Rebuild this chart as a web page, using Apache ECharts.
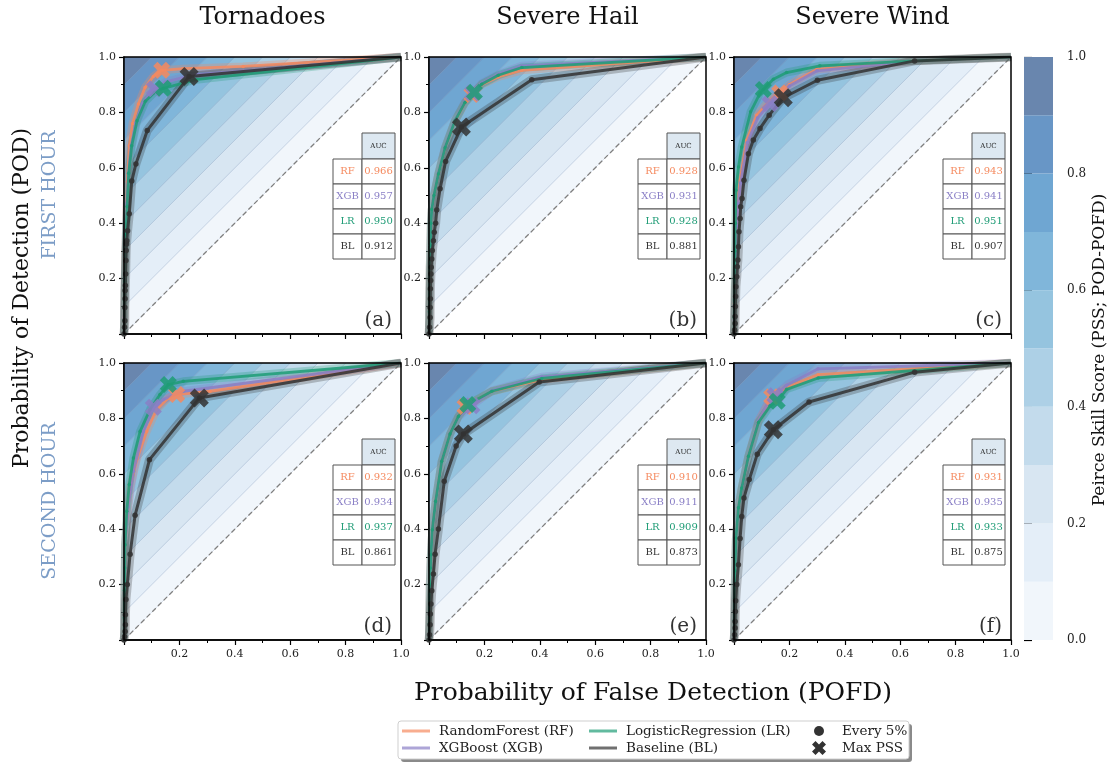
<!DOCTYPE html>
<html>
<head>
<meta charset="utf-8">
<script src="https://cdn.jsdelivr.net/npm/echarts@6.0.0/dist/echarts.min.js"></script>
<style>
html,body{margin:0;padding:0;background:#fff;}
#chart{width:1113px;height:764px;}
</style>
</head>
<body>
<div id="chart"></div>
<script>
// ---------- labels ----------
const columnTitles = ['Tornadoes', 'Severe Hail', 'Severe Wind'];
const rowTitles = ['FIRST HOUR', 'SECOND HOUR'];
const panelLetters = ['(a)', '(b)', '(c)', '(d)', '(e)', '(f)'];
const modelNames = ['RF', 'XGB', 'LR', 'BL'];
const legendNames = ['RandomForest (RF)', 'XGBoost (XGB)', 'LogisticRegression (LR)', 'Baseline (BL)'];
const modelColors = ['#f58a5f', '#8a7fc6', '#1f9c76', '#333333'];

// ---------- PSS filled levels (POD - POFD) ----------
const pssBounds = [0, 0.1, 0.2, 0.3, 0.4, 0.5, 0.6, 0.7, 0.8, 0.9, 1.0];
const pssColors = ['#f1f6fb', '#e4eef8', '#d8e6f2', '#c3dbec', '#add0e6', '#95c4df', '#80b6da', '#6fa6d2', '#6896c6', '#6986ae'];

// ---------- ROC curves: [POFD, POD] ----------
// Tornadoes, first hour
const torn1RF  = [[0,0],[0.001,0.06],[0.002,0.13],[0.003,0.2],[0.004,0.27],[0.006,0.34],[0.009,0.45],[0.012,0.55],[0.019,0.68],[0.031,0.76],[0.052,0.83],[0.076,0.89],[0.106,0.93],[0.136,0.952],[0.214,0.958],[0.43,0.966],[1,1]];
const torn1XGB = [[0,0],[0.001,0.06],[0.002,0.13],[0.003,0.2],[0.005,0.28],[0.007,0.36],[0.01,0.47],[0.016,0.58],[0.026,0.68],[0.042,0.76],[0.066,0.83],[0.09,0.865],[0.11,0.885],[0.15,0.91],[0.25,0.935],[0.5,0.955],[1,1]];
const torn1LR  = [[0,0],[0.001,0.05],[0.002,0.12],[0.003,0.19],[0.005,0.27],[0.007,0.36],[0.011,0.46],[0.017,0.58],[0.028,0.68],[0.047,0.77],[0.077,0.84],[0.11,0.872],[0.142,0.887],[0.26,0.918],[1,1]];
const torn1BL  = [[0,0],[0.002,0.024],[0.003,0.048],[0.003,0.096],[0.004,0.127],[0.004,0.157],[0.005,0.175],[0.006,0.217],[0.007,0.265],[0.008,0.301],[0.009,0.325],[0.010,0.337],[0.013,0.373],[0.019,0.434],[0.028,0.552],[0.043,0.614],[0.084,0.735],[0.235,0.93],[1,1]];
const torn1Max = [[0.136,0.952],[0.11,0.885],[0.142,0.887],[0.235,0.93]];
const torn1AUC = [0.966, 0.957, 0.950, 0.912];

// Severe hail, first hour
const hail1RF  = [[0,0],[0.001,0.08],[0.002,0.16],[0.003,0.24],[0.005,0.32],[0.007,0.4],[0.01,0.45],[0.018,0.5],[0.034,0.578],[0.058,0.672],[0.094,0.768],[0.13,0.835],[0.158,0.868],[0.19,0.9],[0.25,0.928],[0.335,0.952],[1,1]];
const hail1XGB = [[0,0],[0.001,0.08],[0.002,0.16],[0.003,0.24],[0.005,0.32],[0.007,0.4],[0.01,0.45],[0.018,0.5],[0.034,0.58],[0.058,0.675],[0.094,0.772],[0.13,0.838],[0.158,0.87],[0.19,0.905],[0.25,0.938],[0.335,0.968],[1,1]];
const hail1LR  = [[0,0],[0.001,0.08],[0.002,0.16],[0.003,0.24],[0.005,0.32],[0.007,0.4],[0.01,0.45],[0.018,0.5],[0.034,0.578],[0.058,0.672],[0.094,0.77],[0.13,0.836],[0.164,0.873],[0.19,0.902],[0.25,0.934],[0.335,0.962],[1,1]];
const hail1BL  = [[0,0],[0.002,0.024],[0.004,0.06],[0.004,0.096],[0.005,0.127],[0.005,0.163],[0.006,0.193],[0.007,0.217],[0.008,0.241],[0.010,0.271],[0.012,0.301],[0.016,0.337],[0.019,0.367],[0.024,0.4],[0.028,0.448],[0.04,0.524],[0.06,0.623],[0.117,0.747],[0.371,0.918],[1,1]];
const hail1Max = [[0.155,0.865],[0.158,0.87],[0.164,0.873],[0.117,0.747]];
const hail1AUC = [0.928, 0.931, 0.928, 0.881];

// Severe wind, first hour
const wind1RF  = [[0,0],[0.001,0.05],[0.002,0.11],[0.004,0.2],[0.006,0.3],[0.009,0.4],[0.014,0.48],[0.022,0.555],[0.046,0.7],[0.082,0.79],[0.13,0.844],[0.165,0.87],[0.2,0.9],[0.298,0.955],[0.652,0.986],[1,1]];
const wind1XGB = [[0,0],[0.001,0.05],[0.002,0.1],[0.004,0.19],[0.006,0.29],[0.009,0.39],[0.015,0.47],[0.024,0.545],[0.048,0.69],[0.085,0.78],[0.13,0.832],[0.2,0.895],[0.3,0.95],[0.652,0.986],[1,1]];
const wind1LR  = [[0,0],[0.001,0.06],[0.002,0.123],[0.003,0.2],[0.004,0.3],[0.005,0.4],[0.007,0.519],[0.016,0.603],[0.028,0.675],[0.06,0.802],[0.094,0.87],[0.106,0.883],[0.142,0.92],[0.19,0.944],[0.31,0.968],[0.652,0.986],[1,1]];
const wind1BL  = [[0,0],[0.002,0.014],[0.004,0.038],[0.004,0.063],[0.005,0.099],[0.006,0.135],[0.007,0.171],[0.010,0.207],[0.012,0.243],[0.014,0.267],[0.016,0.315],[0.018,0.369],[0.022,0.417],[0.024,0.459],[0.029,0.489],[0.036,0.555],[0.052,0.651],[0.07,0.7],[0.094,0.742],[0.127,0.79],[0.178,0.853],[0.301,0.916],[0.652,0.986],[1,1]];
const wind1Max = [[0.165,0.87],[0.13,0.832],[0.106,0.883],[0.178,0.853]];
const wind1AUC = [0.943, 0.941, 0.951, 0.907];

// Tornadoes, second hour
const torn2RF  = [[0,0],[0.001,0.08],[0.002,0.17],[0.003,0.26],[0.004,0.344],[0.012,0.45],[0.022,0.549],[0.046,0.651],[0.082,0.753],[0.118,0.832],[0.16,0.874],[0.19,0.886],[0.311,0.898],[1,1]];
const torn2XGB = [[0,0],[0.001,0.08],[0.002,0.17],[0.003,0.26],[0.004,0.344],[0.015,0.48],[0.034,0.609],[0.07,0.753],[0.106,0.84],[0.142,0.868],[0.214,0.898],[1,1]];
const torn2LR  = [[0,0],[0.001,0.08],[0.002,0.18],[0.003,0.26],[0.004,0.344],[0.01,0.465],[0.019,0.561],[0.034,0.657],[0.058,0.753],[0.094,0.832],[0.13,0.886],[0.16,0.922],[0.214,0.934],[1,1]];
const torn2BL  = [[0,0],[0.002,0.013],[0.004,0.031],[0.005,0.055],[0.005,0.091],[0.007,0.146],[0.012,0.2],[0.022,0.31],[0.04,0.45],[0.092,0.651],[0.272,0.874],[1,1]];
const torn2Max = [[0.19,0.886],[0.106,0.84],[0.16,0.922],[0.272,0.874]];
const torn2AUC = [0.932, 0.934, 0.937, 0.861];

// Severe hail, second hour
const hail2RF  = [[0,0],[0.001,0.06],[0.002,0.13],[0.003,0.2],[0.005,0.26],[0.007,0.308],[0.012,0.398],[0.024,0.501],[0.046,0.645],[0.076,0.744],[0.106,0.807],[0.13,0.843],[0.148,0.852],[0.227,0.898],[0.407,0.94],[1,1]];
const hail2XGB = [[0,0],[0.001,0.06],[0.002,0.13],[0.003,0.2],[0.005,0.26],[0.007,0.308],[0.012,0.398],[0.024,0.501],[0.046,0.645],[0.076,0.744],[0.106,0.805],[0.155,0.846],[0.227,0.9],[0.407,0.95],[1,1]];
const hail2LR  = [[0,0],[0.001,0.06],[0.002,0.13],[0.003,0.2],[0.005,0.26],[0.007,0.308],[0.012,0.398],[0.024,0.501],[0.046,0.645],[0.076,0.744],[0.106,0.807],[0.14,0.85],[0.227,0.898],[0.407,0.944],[1,1]];
const hail2BL  = [[0,0],[0.002,0.019],[0.004,0.055],[0.005,0.094],[0.007,0.13],[0.010,0.178],[0.016,0.238],[0.022,0.31],[0.034,0.401],[0.055,0.573],[0.098,0.7],[0.124,0.744],[0.398,0.931],[1,1]];
const hail2Max = [[0.13,0.843],[0.155,0.846],[0.14,0.85],[0.124,0.744]];
const hail2AUC = [0.910, 0.911, 0.909, 0.873];

// Severe wind, second hour
const wind2RF  = [[0,0],[0.001,0.07],[0.002,0.15],[0.004,0.25],[0.007,0.368],[0.016,0.477],[0.028,0.549],[0.052,0.663],[0.088,0.789],[0.136,0.878],[0.19,0.912],[0.304,0.958],[1,1]];
const wind2XGB = [[0,0],[0.001,0.07],[0.002,0.15],[0.004,0.25],[0.007,0.368],[0.016,0.477],[0.028,0.549],[0.052,0.663],[0.088,0.79],[0.13,0.87],[0.148,0.882],[0.19,0.92],[0.304,0.979],[1,1]];
const wind2LR  = [[0,0],[0.001,0.07],[0.002,0.15],[0.004,0.25],[0.007,0.368],[0.016,0.477],[0.028,0.549],[0.052,0.663],[0.088,0.785],[0.13,0.845],[0.156,0.862],[0.19,0.905],[0.304,0.946],[1,1]];
const wind2BL  = [[0,0],[0.002,0.019],[0.004,0.043],[0.004,0.067],[0.005,0.103],[0.006,0.142],[0.010,0.2],[0.016,0.272],[0.022,0.366],[0.028,0.446],[0.036,0.513],[0.055,0.579],[0.084,0.671],[0.142,0.759],[0.271,0.859],[0.652,0.967],[1,1]];
const wind2Max = [[0.136,0.878],[0.148,0.882],[0.156,0.862],[0.142,0.759]];
const wind2AUC = [0.931, 0.935, 0.933, 0.875];

// ---------- panel assembly ----------
const panels = [
  { curves: [torn1RF, torn1XGB, torn1LR, torn1BL], maxPss: torn1Max, auc: torn1AUC },
  { curves: [hail1RF, hail1XGB, hail1LR, hail1BL], maxPss: hail1Max, auc: hail1AUC },
  { curves: [wind1RF, wind1XGB, wind1LR, wind1BL], maxPss: wind1Max, auc: wind1AUC },
  { curves: [torn2RF, torn2XGB, torn2LR, torn2BL], maxPss: torn2Max, auc: torn2AUC },
  { curves: [hail2RF, hail2XGB, hail2LR, hail2BL], maxPss: hail2Max, auc: hail2AUC },
  { curves: [wind2RF, wind2XGB, wind2LR, wind2BL], maxPss: wind2Max, auc: wind2AUC }
];

const FONT = '"DejaVu Serif", serif';
const TEXT = '#222';
const SIZE = 277;
const COL_X = [124, 429, 734];
const ROW_Y = [57, 363];
// filled "X" marker outline on a 20x20 box
const X_POINTS = [[0,5],[5,0],[10,5],[15,0],[20,5],[15,10],[20,15],[15,20],[10,15],[5,20],[0,15],[5,10]];
const X_MARK = 'path://M' + X_POINTS.map(p => p.join(',')).join('L') + 'Z';

const grids = [], xAxes = [], yAxes = [], series = [], graphics = [];

function bandRender(params, api) {
  const lo = api.value(0), hi = api.value(1);
  const pts = [[0, lo], [1 - lo, 1], [1 - hi, 1], [0, hi]].map(p => api.coord(p));
  return {
    type: 'polygon',
    shape: { points: pts },
    style: { fill: pssColors[params.dataIndex], stroke: 'rgba(30,70,130,0.2)', lineWidth: 0.7 }
  };
}

panels.forEach((panel, p) => {
  const r = Math.floor(p / 3), c = p % 3;
  const left = COL_X[c], top = ROW_Y[r];
  grids.push({ left, top, width: SIZE, height: SIZE, containLabel: false });
  const tickCommon = {
    axisTick: { show: true, length: 5, lineStyle: { color: '#000', width: 1.2 } },
    minorTick: { show: true, splitNumber: 2, length: 3, lineStyle: { color: '#000', width: 1 } },
    splitLine: { show: false },
    axisLine: { show: true, lineStyle: { color: '#000', width: 1.5 } }
  };
  xAxes.push(Object.assign({
    gridIndex: p, type: 'value', min: 0, max: 1, interval: 0.2,
    axisLabel: { show: r === 1, fontFamily: FONT, fontSize: 11, color: TEXT, margin: 9,
      formatter: v => (v === 0 ? '' : v.toFixed(1)) }
  }, tickCommon));
  yAxes.push(Object.assign({
    gridIndex: p, type: 'value', min: 0, max: 1, interval: 0.2,
    axisLabel: { fontFamily: FONT, fontSize: 11, color: TEXT, margin: 8,
      formatter: v => (v === 0 ? '' : v.toFixed(1)) }
  }, tickCommon));

  // PSS bands
  series.push({
    type: 'custom', xAxisIndex: p, yAxisIndex: p, silent: true, z: 1,
    renderItem: bandRender,
    data: pssColors.map((col, i) => [pssBounds[i], pssBounds[i + 1]])
  });
  // no-skill diagonal
  series.push({
    type: 'line', xAxisIndex: p, yAxisIndex: p, silent: true, z: 3,
    data: [[0, 0], [1, 1]], symbol: 'none',
    lineStyle: { color: '#7f7f7f', width: 1.3, type: [5, 3] }
  });
  // curves: uncertainty halo, then line with 5% threshold dots
  panel.curves.forEach((curve, m) => {
    const color = modelColors[m];
    series.push({
      type: 'line', xAxisIndex: p, yAxisIndex: p, silent: true, z: 4,
      data: curve, symbol: 'none',
      lineStyle: { color, width: m === 3 ? 9 : 8, opacity: 0.28 }
    });
    series.push({
      type: 'line', xAxisIndex: p, yAxisIndex: p, silent: true, z: 5 + m,
      data: curve.map((pt, i) => (i === curve.length - 1 ? { value: pt, symbol: 'none' } : pt)),
      symbol: 'circle', symbolSize: m === 3 ? 5.5 : 3.5, showSymbol: true,
      itemStyle: { color, opacity: 0.9 },
      lineStyle: { color, width: m === 3 ? 3 : 2.8, opacity: 0.85 }
    });
  });
  // max PSS markers
  panel.maxPss.forEach((pt, m) => {
    series.push({
      type: 'scatter', xAxisIndex: p, yAxisIndex: p, silent: true, z: 12 + m,
      data: [pt], symbol: X_MARK, symbolSize: m === 3 ? 19 : 17,
      itemStyle: { color: modelColors[m], opacity: 0.85 }
    });
  });

  // frame
  graphics.push({ type: 'rect', z: 100, shape: { x: left, y: top, width: SIZE, height: SIZE },
    style: { fill: 'none', stroke: '#000', lineWidth: 1.5 } });

  // panel letter
  graphics.push({ type: 'text', z: 100, x: left + 268, y: top + 264,
    style: { text: panelLetters[p], font: '20px ' + FONT, fill: '#333', align: 'right', verticalAlign: 'middle' } });

  // AUC table
  const tx = left + 209, ty = top + 76;
  graphics.push({ type: 'rect', z: 101, shape: { x: tx + 29, y: ty, width: 33, height: 26 },
    style: { fill: '#dde8f1', stroke: '#555', lineWidth: 1 } });
  graphics.push({ type: 'text', z: 102, x: tx + 45.5, y: ty + 13,
    style: { text: 'AUC', font: '7px ' + FONT, fill: '#222', align: 'center', verticalAlign: 'middle' } });
  modelNames.forEach((name, m) => {
    const y0 = ty + 26 + 25 * m;
    graphics.push({ type: 'rect', z: 101, shape: { x: tx, y: y0, width: 29, height: 25 },
      style: { fill: '#fff', stroke: '#555', lineWidth: 1 } });
    graphics.push({ type: 'rect', z: 101, shape: { x: tx + 29, y: y0, width: 33, height: 25 },
      style: { fill: '#fff', stroke: '#555', lineWidth: 1 } });
    graphics.push({ type: 'text', z: 102, x: tx + 14.5, y: y0 + 12.5,
      style: { text: name, font: '10px ' + FONT, fill: modelColors[m], align: 'center', verticalAlign: 'middle' } });
    graphics.push({ type: 'text', z: 102, x: tx + 45.5, y: y0 + 12.5,
      style: { text: panel.auc[m].toFixed(3), font: '10px ' + FONT, fill: modelColors[m], align: 'center', verticalAlign: 'middle' } });
  });
});

// colorbar
const cb = panels.length;
grids.push({ left: 1024, top: 57, width: 29, height: 583 });
xAxes.push({ gridIndex: cb, type: 'value', min: 0, max: 1, show: false });
yAxes.push({
  gridIndex: cb, type: 'value', min: 0, max: 1, interval: 0.2, position: 'right',
  axisLine: { show: false }, splitLine: { show: false },
  axisTick: { show: true, length: 8, lineStyle: { color: '#000', width: 1.2 } },
  axisLabel: { fontFamily: FONT, fontSize: 12, color: TEXT, margin: 14, formatter: v => v.toFixed(1) }
});
series.push({
  type: 'custom', xAxisIndex: cb, yAxisIndex: cb, silent: true,
  data: pssColors.map((col, i) => [pssBounds[i], pssBounds[i + 1]]),
  renderItem: (params, api) => {
    const a = api.coord([0, api.value(1)]), b = api.coord([1, api.value(0)]);
    return { type: 'rect', shape: { x: a[0], y: a[1], width: b[0] - a[0], height: b[1] - a[1] },
      style: { fill: pssColors[params.dataIndex] } };
  }
});

// titles and axis names
columnTitles.forEach((t, c) => graphics.push({ type: 'text', x: COL_X[c] + SIZE / 2, y: 18,
  style: { text: t, font: '24px ' + FONT, fill: '#111', align: 'center', verticalAlign: 'middle' } }));
rowTitles.forEach((t, r) => graphics.push({ type: 'text', x: 50, y: ROW_Y[r] + 138, rotation: Math.PI / 2,
  style: { text: t, font: '19px ' + FONT, fill: '#7c9dc7', align: 'center', verticalAlign: 'middle' } }));
graphics.push({ type: 'text', x: 22, y: 298, rotation: Math.PI / 2,
  style: { text: 'Probability of Detection (POD)', font: '22px ' + FONT, fill: '#111', align: 'center', verticalAlign: 'middle' } });
graphics.push({ type: 'text', x: 653, y: 693,
  style: { text: 'Probability of False Detection (POFD)', font: '25px ' + FONT, fill: '#111', align: 'center', verticalAlign: 'middle' } });
graphics.push({ type: 'text', x: 1100, y: 350, rotation: Math.PI / 2,
  style: { text: 'Peirce Skill Score (PSS; POD-POFD)', font: '17px ' + FONT, fill: '#111', align: 'center', verticalAlign: 'middle' } });

// legend
const LEG = { x: 398, y: 721, w: 511, h: 38 };
graphics.push({ type: 'rect', z: 90, shape: { x: LEG.x + 3, y: LEG.y + 3, width: LEG.w, height: LEG.h, r: 3 },
  style: { fill: '#8a8a8a' } });
graphics.push({ type: 'rect', z: 91, shape: { x: LEG.x, y: LEG.y, width: LEG.w, height: LEG.h, r: 3 },
  style: { fill: '#fff', stroke: '#cfcfcf', lineWidth: 1 } });
const legendSlots = [[402, 731], [402, 748], [589, 731], [589, 748]];
legendNames.forEach((name, m) => {
  const [lx, ly] = legendSlots[m];
  graphics.push({ type: 'line', z: 92, shape: { x1: lx, y1: ly, x2: lx + 28, y2: ly },
    style: { stroke: modelColors[m], lineWidth: 3, opacity: 0.7 } });
  graphics.push({ type: 'text', z: 92, x: lx + 37, y: ly,
    style: { text: name, font: '13.5px ' + FONT, fill: '#222', align: 'left', verticalAlign: 'middle' } });
});
graphics.push({ type: 'circle', z: 92, shape: { cx: 819, cy: 731, r: 5 }, style: { fill: '#333' } });
graphics.push({ type: 'text', z: 92, x: 842, y: 731,
  style: { text: 'Every 5%', font: '13.5px ' + FONT, fill: '#222', align: 'left', verticalAlign: 'middle' } });
const xs = 0.7;
graphics.push({ type: 'polygon', z: 92,
  shape: { points: X_POINTS.map(([a, b]) => [819 + (a - 10) * xs, 748 + (b - 10) * xs]) },
  style: { fill: '#333' } });
graphics.push({ type: 'text', z: 92, x: 842, y: 748,
  style: { text: 'Max PSS', font: '13.5px ' + FONT, fill: '#222', align: 'left', verticalAlign: 'middle' } });

const chart = echarts.init(document.getElementById('chart'), null, { renderer: 'canvas' });
chart.setOption({
  animation: false,
  backgroundColor: '#fff',
  grid: grids,
  xAxis: xAxes,
  yAxis: yAxes,
  series: series,
  graphic: { elements: graphics }
});
</script>
</body>
</html>
